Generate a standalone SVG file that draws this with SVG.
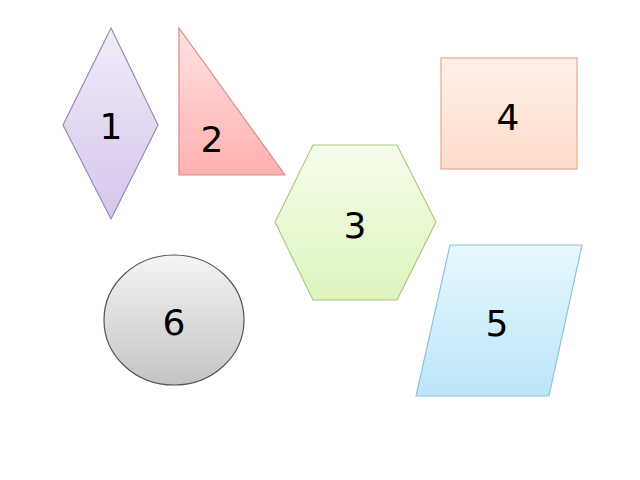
<svg xmlns="http://www.w3.org/2000/svg" width="640" height="480" viewBox="0 0 640 480">
<defs>
<linearGradient id="g1" x1="0" y1="0" x2="0" y2="1"><stop offset="0" stop-color="#f1ecf8"/><stop offset="1" stop-color="#d5c6ec"/></linearGradient>
<linearGradient id="g2" x1="0" y1="0" x2="0" y2="1"><stop offset="0" stop-color="#ffe2e2"/><stop offset="1" stop-color="#ffb0b0"/></linearGradient>
<linearGradient id="g3" x1="0" y1="0" x2="0" y2="1"><stop offset="0" stop-color="#f6fceb"/><stop offset="1" stop-color="#ddf5bd"/></linearGradient>
<linearGradient id="g4" x1="0" y1="0" x2="0" y2="1"><stop offset="0" stop-color="#fff0ea"/><stop offset="1" stop-color="#fddccb"/></linearGradient>
<linearGradient id="g5" x1="0" y1="0" x2="0" y2="1"><stop offset="0" stop-color="#e8f7fd"/><stop offset="1" stop-color="#bce6f8"/></linearGradient>
<linearGradient id="g6" x1="0" y1="0" x2="0" y2="1"><stop offset="0" stop-color="#f4f4f4"/><stop offset="1" stop-color="#c4c4c4"/></linearGradient>
</defs>
<style>
text{font-family:"DejaVu Sans",sans-serif;font-size:36px;text-anchor:middle;fill:#000}
.s{stroke-width:1.2}
</style>
<rect width="640" height="480" fill="#fff"/>
<g id="n1"><polygon class="s" points="111,28 158,125 111,219 63,125" fill="url(#g1)" stroke="#9a88b8"/><text x="111" y="139">1</text></g>
<g id="n2"><polygon class="s" points="179,28 179,175 285,175" fill="url(#g2)" stroke="#d88a8a"/><text x="212" y="152">2</text></g>
<g id="n3"><polygon class="s" points="275,222 313,145 397,145 436,222 397,300 313,300" fill="url(#g3)" stroke="#a6cc82"/><text x="355" y="238">3</text></g>
<g id="n4"><rect class="s" x="441" y="58" width="136" height="111" fill="url(#g4)" stroke="#e6aa8c"/><text x="508" y="130">4</text></g>
<g id="n5"><polygon class="s" points="450,245 582,245 549,396 416,396" fill="url(#g5)" stroke="#8cc4dc"/><text x="497" y="336">5</text></g>
<g id="n6"><ellipse class="s" cx="174" cy="320" rx="70" ry="65" fill="url(#g6)" stroke="#555"/><text x="174" y="335">6</text></g>
<g id="connectors"/>
</svg>
